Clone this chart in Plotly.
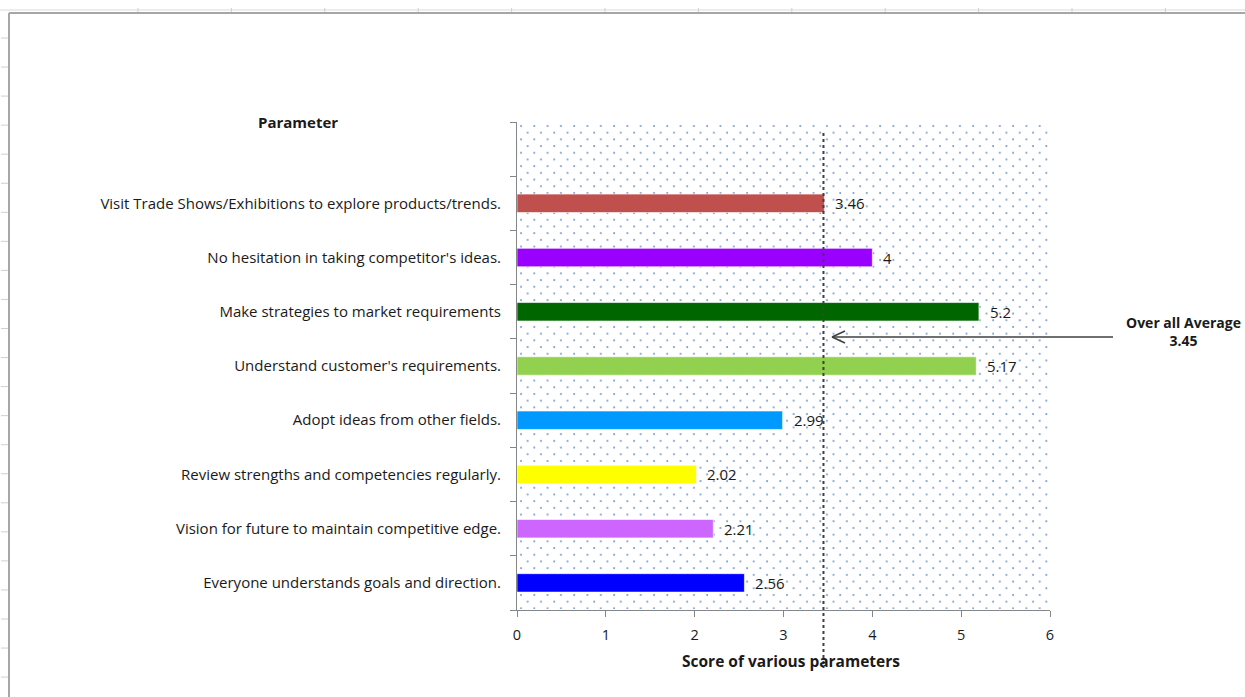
import base64
import plotly.graph_objects as go

# Survey results: mean score per parameter (bottom to top on the chart)
parameters = [
    "Everyone understands goals and direction.",
    "Vision for future to maintain competitive edge.",
    "Review strengths and competencies regularly.",
    "Adopt ideas from other fields.",
    "Understand customer's requirements.",
    "Make strategies to market requirements",
    "No hesitation in taking competitor's ideas.",
    "Visit Trade Shows/Exhibitions to explore products/trends.",
]
scores = [2.56, 2.21, 2.02, 2.99, 5.17, 5.2, 4, 3.46]
bar_colors = ["#0000FF", "#CC66FF", "#FFFF00", "#0099FF",
              "#92D050", "#006600", "#9900FF", "#C0504D"]
overall_average = 3.45
x_ticks = [0, 1, 2, 3, 4, 5, 6]

# Page and plot-area geometry (pixels)
FIG_W, FIG_H = 1245, 697
L, R, T, B = 517, 195, 122, 87
PW, PH = FIG_W - L - R, FIG_H - T - B

def px(xp):
    return (xp - L) / PW

def py(yp):
    return (FIG_H - B - yp) / PH

FONT = "Open Sans"
SIZE = 15
TXT = "#1a1a1a"

# empty slot on top of the category axis
EMPTY = " "
categories = parameters + [EMPTY]

fig = go.Figure()
fig.add_trace(go.Bar(
    y=parameters, x=scores, orientation="h",
    marker=dict(color=bar_colors, line=dict(color="rgba(255,255,255,0.6)", width=1)),
    width=0.34, hoverinfo="x+y", showlegend=False,
))
# zero-length placeholder keeps the blank top slot on the axis
fig.add_trace(go.Bar(y=[EMPTY], x=[0], orientation="h", width=0.34,
                     marker=dict(color="rgba(0,0,0,0)"), hoverinfo="skip",
                     showlegend=False))

annotations = []
for name, val in zip(parameters, scores):
    annotations.append(dict(
        x=val, y=name, xref="x", yref="y", text=f"{val:g}", showarrow=False,
        xanchor="left", yanchor="middle", xshift=9,
        font=dict(family=FONT, size=SIZE, color=TXT),
    ))

# average marker text with leader arrow
annotations.append(dict(
    x=px(1243), y=py(331), xref="paper", yref="paper",
    text=f"<b>Over all Average</b><br><b>{overall_average:g}</b>",
    showarrow=False, xanchor="right", yanchor="middle",
    font=dict(family=FONT, size=14, color=TXT), align="center",
))
annotations.append(dict(
    x=px(298), y=py(122), xref="paper", yref="paper", text="<b>Parameter</b>",
    showarrow=False, xanchor="center", yanchor="middle",
    font=dict(family=FONT, size=SIZE, color=TXT),
))
annotations.append(dict(
    x=px(791), y=py(661), xref="paper", yref="paper", text="<b>Score of various parameters</b>",
    showarrow=False, xanchor="center", yanchor="middle",
    font=dict(family=FONT, size=15.5, color=TXT),
))

shapes = []
# worksheet frame around the chart
shapes.append(dict(type="line", xref="paper", yref="paper",
                   x0=px(0), x1=px(FIG_W), y0=py(10), y1=py(10),
                   line=dict(color="#DADADA", width=1)))
shapes.append(dict(type="line", xref="paper", yref="paper",
                   x0=px(9), x1=px(FIG_W), y0=py(13), y1=py(13),
                   line=dict(color="#A6A6A6", width=2)))
shapes.append(dict(type="line", xref="paper", yref="paper",
                   x0=px(9), x1=px(9), y0=py(13), y1=py(FIG_H),
                   line=dict(color="#A6A6A6", width=2)))
for k in range(23):
    yy = 38 + 29.05 * k
    shapes.append(dict(type="line", xref="paper", yref="paper",
                       x0=px(1), x1=px(8), y0=py(yy), y1=py(yy),
                       line=dict(color="#D0D0D0", width=1)))
for k in range(12):
    xx = 138 + 93.4 * k
    shapes.append(dict(type="line", xref="paper", yref="paper",
                       x0=px(xx), x1=px(xx), y0=py(8), y1=py(12),
                       line=dict(color="#D0D0D0", width=1)))

# overall average reference line
shapes.append(dict(type="line", xref="x", yref="paper",
                   x0=overall_average, x1=overall_average, y0=py(133), y1=py(668),
                   line=dict(color="#404040", width=2, dash="dot")))

# leader arrow with an open head
ay = py(337)
shapes.append(dict(type="line", xref="paper", yref="paper",
                   x0=px(832), x1=px(1113), y0=ay, y1=ay,
                   line=dict(color="#404040", width=1.5)))
for dy in (-6, 6):
    shapes.append(dict(type="line", xref="paper", yref="paper",
                       x0=px(832), x1=px(845), y0=ay, y1=py(337 + dy),
                       line=dict(color="#404040", width=1.5)))

# staggered dot fill for the plot area
svg = (
    f'<svg xmlns="http://www.w3.org/2000/svg" width="{PW}" height="{PH}">'
    '<defs><pattern id="d" x="2" y="2" width="13.3" height="13.4" patternUnits="userSpaceOnUse">'
    '<circle cx="2" cy="2" r="1" fill="#6F97D0"/>'
    '<circle cx="8.65" cy="8.7" r="1" fill="#6F97D0"/>'
    '</pattern></defs>'
    f'<rect x="2" y="2" width="{PW - 4}" height="{PH - 3}" fill="url(#d)"/></svg>'
)
uri = "data:image/svg+xml;base64," + base64.b64encode(svg.encode()).decode()

fig.update_layout(
    width=FIG_W, height=FIG_H,
    margin=dict(l=L, r=R, t=T, b=B, pad=0),
    paper_bgcolor="white", plot_bgcolor="rgba(0,0,0,0)",
    images=[dict(source=uri, xref="x domain", yref="y domain", x=0, y=1,
                 sizex=1, sizey=1, xanchor="left", yanchor="top",
                 sizing="stretch", layer="below")],
    annotations=annotations, shapes=shapes,
    barmode="overlay",
    xaxis=dict(
        range=[0, 6], tickvals=x_ticks, ticktext=[str(t) for t in x_ticks],
        showgrid=False, zeroline=False, showline=True, linecolor="#868686", linewidth=1,
        ticks="outside", ticklen=6, tickcolor="#868686", ticklabelstandoff=6,
        tickfont=dict(family=FONT, size=14.5, color=TXT), fixedrange=True,
    ),
    yaxis=dict(
        type="category", categoryorder="array", categoryarray=categories,
        range=[-0.5, len(categories) - 0.5],
        tickson="boundaries", showgrid=False, zeroline=False,
        showline=True, linecolor="#868686", linewidth=1,
        ticks="outside", ticklen=6, tickcolor="#868686",
        ticklabelstandoff=12,
        tickfont=dict(family=FONT, size=SIZE, color=TXT), fixedrange=True,
    ),
)

fig.write_html("out.html")
